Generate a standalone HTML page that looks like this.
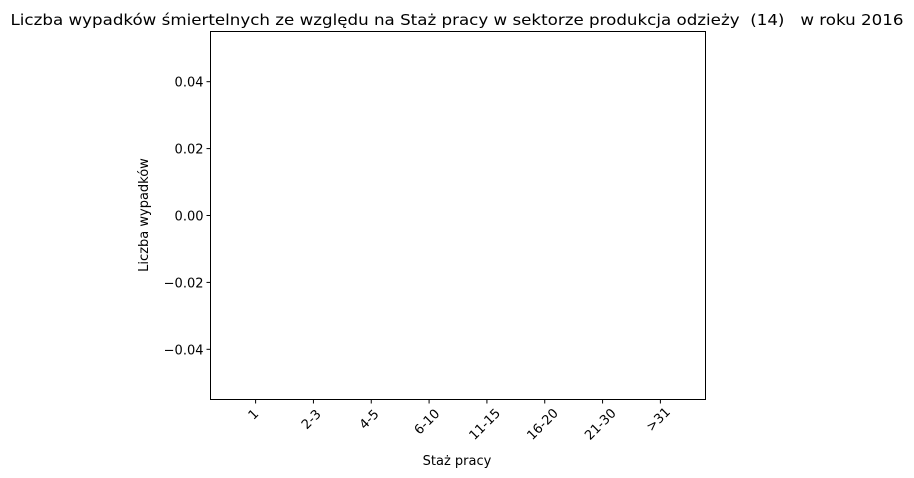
<!DOCTYPE html>
<html><head><meta charset="utf-8"><style>
body{margin:0;background:#fff;}
svg{display:block;font-family:"DejaVu Sans","Liberation Sans",sans-serif;}
</style></head><body>
<svg id="chart" width="914" height="478" viewBox="0 0 914 478">
<rect width="914" height="478" fill="#fff"/>
<text x="457" y="25" text-anchor="middle" font-size="15" textLength="893" lengthAdjust="spacingAndGlyphs" style="white-space:pre" xml:space="preserve">Liczba wypadków śmiertelnych ze względu na Staż pracy w sektorze produkcja odzieży  (14)   w roku 2016</text>
<g id="bars"></g>
<g id="yaxis"></g>
<g id="xaxis"></g>
<rect x="210.5" y="31.5" width="495" height="368" fill="none" stroke="#000" stroke-width="1"/>
<text transform="translate(148,215) rotate(-90)" text-anchor="middle" font-size="13">Liczba wypadków</text>
<text x="457" y="465" text-anchor="middle" font-size="13">Staż pracy</text>
</svg>
<script>
const categories = ["1","2-3","4-5","6-10","11-15","16-20","21-30",">31"];
const values = [0,0,0,0,0,0,0,0];
const yTicks = [0.04,0.02,0.00,-0.02,-0.04];
const yTickLabels = ["0.04","0.02","0.00","\u22120.02","\u22120.04"];

const NS="http://www.w3.org/2000/svg";
const L=210.5,R=705.5,T=31.5,B=399.5;
const yMin=-0.055,yMax=0.055;
const xMin=-0.78,xMax=categories.length-1+0.78;
const xs=i=>L+(i-xMin)/(xMax-xMin)*(R-L);
const ys=v=>B-(v-yMin)/(yMax-yMin)*(B-T);
function mk(t,a){const e=document.createElementNS(NS,t);for(const k in a)e.setAttribute(k,a[k]);return e;}
const bars=document.getElementById('bars'),xa=document.getElementById('xaxis'),ya=document.getElementById('yaxis');
categories.forEach((c,i)=>{
  const x=xs(i),w=(xs(0.8)-xs(0));
  const y0=ys(0),y1=ys(values[i]);
  const r=mk('rect',{x:x-w/2,y:Math.min(y0,y1),width:w,height:Math.abs(y1-y0),fill:'#1f77b4'});
  
  
  bars.appendChild(r);
  const tk=mk('line',{x1:x,x2:x,y1:B,y2:B+4,stroke:'#000'});
  
  
  xa.appendChild(tk);
  const tw=c.length*7, d=(tw*0.707+13*0.707)/2;
  const cy=B+8+d;
  const t=mk('text',{x:x-2,y:cy+4,'text-anchor':'middle','font-size':'13',transform:`rotate(-45 ${x-2} ${cy})`});
  t.textContent=c;
  
  
  xa.appendChild(t);
});
yTicks.forEach((v,i)=>{
  const y=ys(v);
  const tk=mk('line',{x1:L-4,x2:L,y1:y,y2:y,stroke:'#000'});
  
  
  ya.appendChild(tk);
  const t=mk('text',{x:L-7,y:y+5,'text-anchor':'end','font-size':'13'});
  t.textContent=yTickLabels[i];
  
  
  ya.appendChild(t);
});
</script>
</body></html>
